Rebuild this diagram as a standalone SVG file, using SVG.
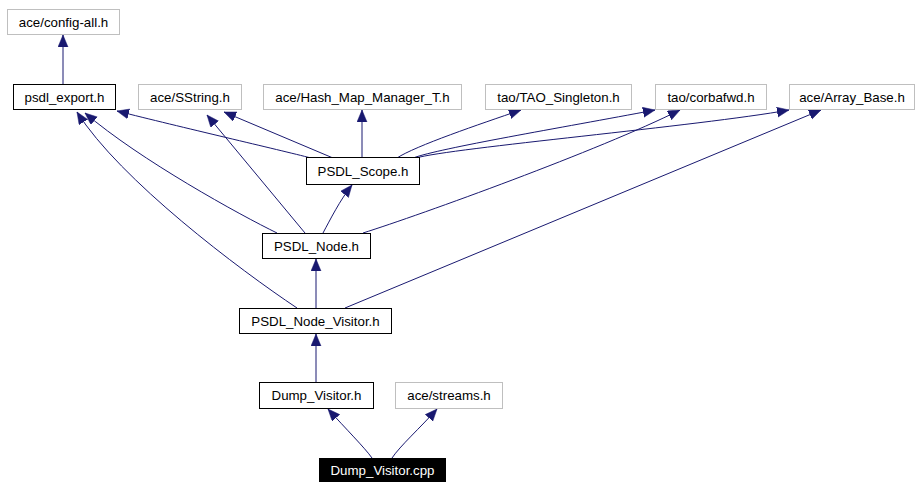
<svg xmlns="http://www.w3.org/2000/svg" width="924" height="490" viewBox="0 0 924 490">
<style>
.n rect{fill:#fff;stroke:#000;stroke-width:1}
.x rect{fill:#fff;stroke:#bfbfbf;stroke-width:1}
.r rect{fill:#000;stroke:#000;stroke-width:1}
text{font-family:"Liberation Sans",Arial,sans-serif;font-size:13.3px;text-anchor:middle;fill:#000}
.r text{fill:#fff}
#edges path{fill:none;stroke:#191970;stroke-width:1;marker-end:url(#ah)}
</style>
<defs>
<marker id="ah" markerUnits="userSpaceOnUse" markerWidth="13" markerHeight="11" refX="12" refY="5" orient="auto" viewBox="0 0 13 11">
<path d="M0,0 L12,5 L0,10 z" fill="#191970" stroke="#191970" stroke-width="0.5"/>
</marker>
</defs>
<rect width="924" height="490" fill="#fff"/>
<g id="edges">
<path d="M63,84 L63,35"/>
<path d="M311,158 C280,150 180,127 117,111"/>
<path d="M333,158 L224,112"/>
<path d="M362,158 L362,110"/>
<path d="M397,158 C415,146 480,124 521,110"/>
<path d="M413,158 C440,148 560,128 655,110"/>
<path d="M416,158 C450,148 700,126 789,110"/>
<path d="M277,233 C240,215 140,160 85,113"/>
<path d="M305,233 L207,115"/>
<path d="M323,233 C330,220 340,200 352,185"/>
<path d="M363,233 C420,215 600,150 680,110"/>
<path d="M297,308 C240,270 120,180 77,112"/>
<path d="M316,308 L316,259"/>
<path d="M345,308 L821,110"/>
<path d="M316,382 L316,334"/>
<path d="M372,458 C365,448 345,428 328,409"/>
<path d="M392,458 C400,446 420,428 437,409"/>
</g>
<g id="config_all" class="x"><rect x="7.5" y="9.5" width="112" height="25"/><text x="63.5" y="26.5">ace/config-all.h</text></g>
<g id="psdl_export" class="n"><rect x="13.5" y="84.5" width="102" height="25"/><text x="64.5" y="101.5">psdl_export.h</text></g>
<g id="sstring" class="x"><rect x="138.5" y="84.5" width="103" height="25"/><text x="190" y="101.5">ace/SString.h</text></g>
<g id="hash_map" class="x"><rect x="263.5" y="84.5" width="198" height="25"/><text x="362.5" y="101.5">ace/Hash_Map_Manager_T.h</text></g>
<g id="tao_singleton" class="x"><rect x="485.5" y="84.5" width="146" height="25"/><text x="558.5" y="101.5">tao/TAO_Singleton.h</text></g>
<g id="corbafwd" class="x"><rect x="655.5" y="84.5" width="111" height="25"/><text x="711" y="101.5">tao/corbafwd.h</text></g>
<g id="array_base" class="x"><rect x="789.5" y="84.5" width="125" height="25"/><text x="852" y="101.5">ace/Array_Base.h</text></g>
<g id="psdl_scope" class="n"><rect x="306.5" y="157.5" width="113" height="27"/><text x="363" y="175.5">PSDL_Scope.h</text></g>
<g id="psdl_node" class="n"><rect x="262.5" y="233.5" width="108" height="25"/><text x="316.5" y="250.5">PSDL_Node.h</text></g>
<g id="psdl_node_visitor" class="n"><rect x="239.5" y="308.5" width="152" height="25"/><text x="315.5" y="325.5">PSDL_Node_Visitor.h</text></g>
<g id="dump_visitor_h" class="n"><rect x="259.5" y="382.5" width="114" height="26"/><text x="316.5" y="400">Dump_Visitor.h</text></g>
<g id="streams" class="x"><rect x="395.5" y="382.5" width="107" height="26"/><text x="449" y="400">ace/streams.h</text></g>
<g id="dump_visitor_cpp" class="r"><rect x="319.5" y="458.5" width="126" height="23"/><text x="382.5" y="475">Dump_Visitor.cpp</text></g>
</svg>
